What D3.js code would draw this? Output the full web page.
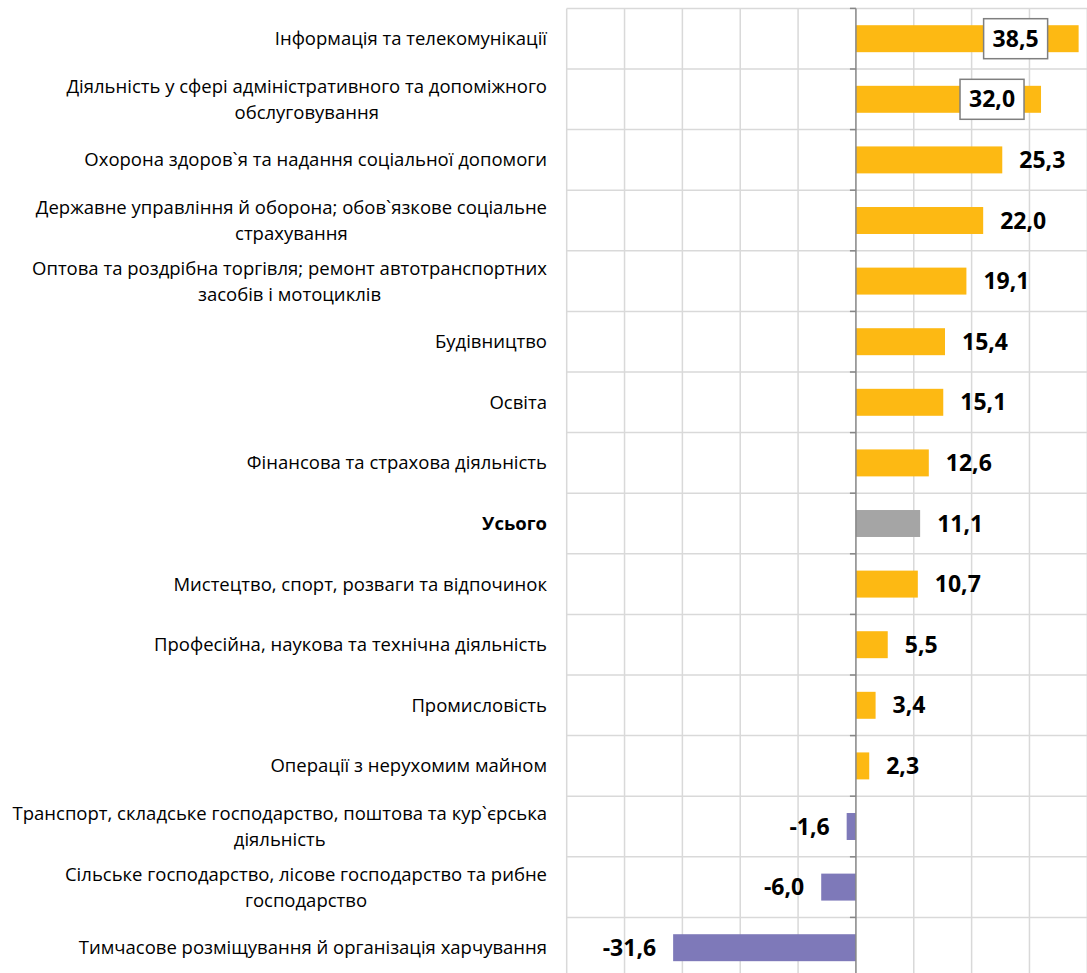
<!DOCTYPE html>
<html>
<head>
<meta charset="utf-8">
<script src="https://cdnjs.cloudflare.com/ajax/libs/d3/7.8.5/d3.min.js"></script>
<style>
  body { margin: 0; background: #fff; }
  svg { display: block; font-family: "Open Sans", sans-serif; }
</style>
</head>
<body>
<div id="vis"></div>
<script>
// categories, top to bottom ('\n' marks the line break in the label)
var categories = [
  'Інформація та телекомунікації',
  'Діяльність у сфері адміністративного та допоміжного\nобслуговування',
  'Охорона здоров`я та надання соціальної допомоги',
  'Державне управління й оборона; обов`язкове соціальне\nстрахування',
  'Оптова та роздрібна торгівля; ремонт автотранспортних\nзасобів і мотоциклів',
  'Будівництво',
  'Освіта',
  'Фінансова та страхова діяльність',
  'Усього',
  'Мистецтво, спорт, розваги та відпочинок',
  'Професійна, наукова та технічна діяльність',
  'Промисловість',
  'Операції з нерухомим майном',
  'Транспорт, складське господарство, поштова та кур`єрська\nдіяльність',
  'Сільське господарство, лісове господарство та рибне\nгосподарство',
  'Тимчасове розміщування й організація харчування'
];

var values = [38.5, 32.0, 25.3, 22.0, 19.1, 15.4, 15.1, 12.6, 11.1, 10.7, 5.5, 3.4, 2.3, -1.6, -6.0, -31.6];

var xTicks = [-50, -40, -30, -20, -10, 0, 10, 20, 30, 40];

var totalName = 'Усього';

// labels that were dragged onto the bar in a framed box: shift of box centre from bar end
var boxedLabels = { 0: -63, 1: -49 };

var width = 1087;
var height = 973;

var colors = { pos: '#FDB913', neg: '#7E79B9', total: '#A5A5A5' };

var labelRight = 547;

var x = d3.scaleLinear()
  .domain([-50, 40])
  .range([566.7, 1087.3]);

var y = d3.scaleBand()
  .domain(categories)
  .range([8.4, 8.4 + 60.6 * categories.length])
  .paddingInner(0.555)
  .paddingOuter(0.2775);

var svg = d3.select('#vis')
  .append('svg')
  .attr('width', width)
  .attr('height', height);

function fmt(v) {
  return v.toFixed(1).replace('.', ',');
}

// vertical gridlines
svg.append('g')
  .selectAll('line')
  .data(xTicks.filter(function (d) { return d !== 0; }))
  .enter().append('line')
  .attr('x1', function (d) { return x(d); })
  .attr('x2', function (d) { return x(d); })
  .attr('y1', y.range()[0])
  .attr('y2', y.range()[1])
  .attr('stroke', '#D9D9D9')
  .attr('stroke-width', 1.5);

// horizontal gridlines on category boundaries
var bounds = categories.map(function (d) { return y(d) - y.step() * y.paddingInner() / 2; });
bounds.push(y.range()[1]);

svg.append('g')
  .selectAll('line')
  .data(bounds)
  .enter().append('line')
  .attr('x1', x.range()[0])
  .attr('x2', x.range()[1])
  .attr('y1', function (d) { return d; })
  .attr('y2', function (d) { return d; })
  .attr('stroke', '#D9D9D9')
  .attr('stroke-width', 1.5);

// bars
svg.append('g')
  .selectAll('rect')
  .data(values)
  .enter().append('rect')
  .attr('x', function (d) { return x(Math.min(0, d)); })
  .attr('width', function (d) { return Math.abs(x(d) - x(0)); })
  .attr('y', function (d, i) { return y(categories[i]); })
  .attr('height', y.bandwidth())
  .attr('fill', function (d, i) {
    if (categories[i] === totalName) return colors.total;
    return d < 0 ? colors.neg : colors.pos;
  });

// zero axis with ticks
var axis = svg.append('g');
axis.append('line')
  .attr('x1', x(0)).attr('x2', x(0))
  .attr('y1', y.range()[0]).attr('y2', y.range()[1])
  .attr('stroke', '#868686')
  .attr('stroke-width', 1.5);
axis.selectAll('.tick')
  .data(bounds)
  .enter().append('line')
  .attr('class', 'tick')
  .attr('x1', x(0) - 6).attr('x2', x(0))
  .attr('y1', function (d) { return d; })
  .attr('y2', function (d) { return d; })
  .attr('stroke', '#868686')
  .attr('stroke-width', 1.5);

// category labels: block is right aligned, lines centred inside it
var labels = svg.append('g')
  .selectAll('text')
  .data(categories)
  .enter().append('text')
  .attr('font-size', 18.5)
  .attr('font-weight', function (d) { return d === totalName ? 700 : 400; })
  .attr('fill', '#000');

labels.each(function (d) {
  var lines = d.split('\n');
  var cy = y(d) + y.bandwidth() / 2;
  var lh = 26;
  var t = d3.select(this);
  var spans = lines.map(function (line, k) {
    return t.append('tspan')
      .attr('y', cy + (k - (lines.length - 1) / 2) * lh)
      .attr('dy', '0.35em')
      .text(line);
  });
  var maxW = d3.max(spans, function (s) { return s.node().getComputedTextLength(); });
  t.attr('text-anchor', 'middle');
  spans.forEach(function (s) { s.attr('x', labelRight - maxW / 2); });
});

// value labels
var vl = svg.append('g')
  .selectAll('g')
  .data(values)
  .enter().append('g');

vl.each(function (d, i) {
  var g = d3.select(this);
  var cy = y(categories[i]) + y.bandwidth() / 2;
  if (boxedLabels[i] !== undefined) {
    var cx = x(d) + boxedLabels[i];
    g.append('rect')
      .attr('x', cx - 32)
      .attr('y', cy - 20)
      .attr('width', 64)
      .attr('height', 40)
      .attr('fill', '#fff')
      .attr('stroke', '#7F7F7F')
      .attr('stroke-width', 1.5);
    g.append('text')
      .attr('x', cx)
      .attr('y', cy)
      .attr('dy', '0.35em')
      .attr('text-anchor', 'middle')
      .attr('font-size', 23)
      .attr('font-weight', 700)
      .text(fmt(d));
  } else {
    g.append('text')
      .attr('x', d < 0 ? x(d) - 17 : x(d) + 17)
      .attr('y', cy)
      .attr('dy', '0.35em')
      .attr('text-anchor', d < 0 ? 'end' : 'start')
      .attr('font-size', 23)
      .attr('font-weight', 700)
      .text(fmt(d));
  }
});
</script>
</body>
</html>
